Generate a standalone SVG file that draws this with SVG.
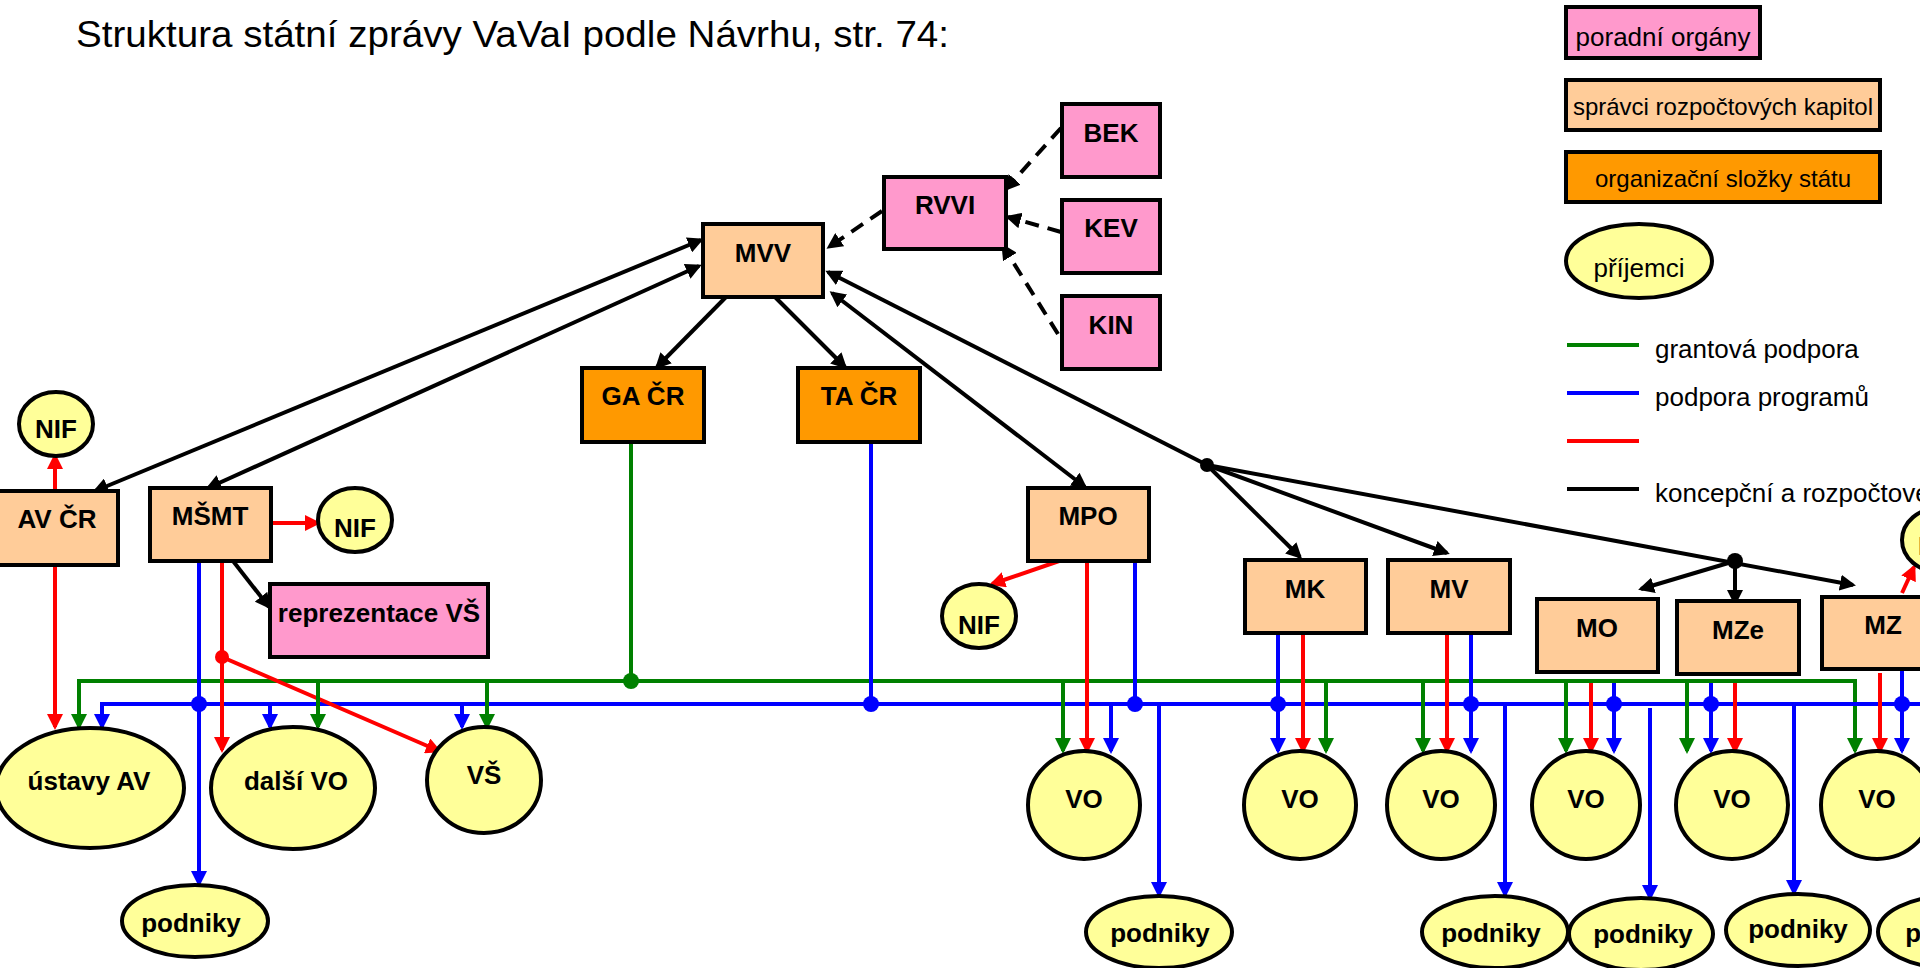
<svg xmlns="http://www.w3.org/2000/svg" width="1920" height="968" viewBox="0 0 1920 968">
<style>
.box{stroke:#000;stroke-width:4}
.pink{fill:#FF99CC}.peach{fill:#FFCC99}.orange{fill:#FF9900}.yel{fill:#FFFF99}
.lbl{font-family:"Liberation Sans",Arial,sans-serif;font-weight:bold;font-size:26px;text-anchor:middle;fill:#000}
.leg{font-family:"Liberation Sans",Arial,sans-serif;font-size:26px;fill:#000}
.legc{font-family:"Liberation Sans",Arial,sans-serif;font-size:24px;fill:#000;text-anchor:middle}
.k{stroke:#000;stroke-width:4;fill:none}
.kd{stroke:#000;stroke-width:4;fill:none;stroke-dasharray:14 9}
.r{stroke:#FF0000;stroke-width:4;fill:none}
.g{stroke:#008000;stroke-width:4;fill:none}
.b{stroke:#0000FF;stroke-width:4;fill:none}
</style>
<defs>
<marker id="ak" viewBox="0 0 16 16" refX="13" refY="8" markerWidth="16" markerHeight="16" markerUnits="userSpaceOnUse" orient="auto-start-reverse"><path d="M0,0L16,8L0,16z" fill="#000"/></marker>
<marker id="ar" viewBox="0 0 16 16" refX="13" refY="8" markerWidth="16" markerHeight="16" markerUnits="userSpaceOnUse" orient="auto"><path d="M0,0L16,8L0,16z" fill="#FF0000"/></marker>
<marker id="ag" viewBox="0 0 16 16" refX="13" refY="8" markerWidth="16" markerHeight="16" markerUnits="userSpaceOnUse" orient="auto"><path d="M0,0L16,8L0,16z" fill="#008000"/></marker>
<marker id="ab" viewBox="0 0 16 16" refX="13" refY="8" markerWidth="16" markerHeight="16" markerUnits="userSpaceOnUse" orient="auto"><path d="M0,0L16,8L0,16z" fill="#0000FF"/></marker>
</defs>
<rect width="1920" height="968" fill="#fff"/>
<text x="76" y="47" font-family="Liberation Sans, Arial, sans-serif" font-size="37" textLength="873" lengthAdjust="spacingAndGlyphs">Struktura státní zprávy VaVaI podle Návrhu, str. 74:</text>

<g id="legend">
<rect class="box pink" x="1566" y="7" width="194" height="51"/>
<text class="legc" x="1663" y="46" style="font-size:26px">poradní orgány</text>
<rect class="box peach" x="1566" y="80" width="314" height="50"/>
<text class="legc" x="1723" y="115">správci rozpočtových kapitol</text>
<rect class="box orange" x="1566" y="152" width="314" height="50"/>
<text class="legc" x="1723" y="187">organizační složky státu</text>
<ellipse class="box yel" cx="1639" cy="261" rx="73" ry="37"/>
<text class="legc" x="1639" y="277" style="font-size:26px">příjemci</text>
<line x1="1567" y1="345" x2="1639" y2="345" class="g"/>
<text class="leg" x="1655" y="358">grantová podpora</text>
<line x1="1567" y1="393" x2="1639" y2="393" class="b"/>
<text class="leg" x="1655" y="406">podpora programů</text>
<line x1="1567" y1="441" x2="1639" y2="441" class="r"/>
<line x1="1567" y1="489" x2="1639" y2="489" class="k"/>
<text class="leg" x="1655" y="502">koncepční a rozpočtové</text>
</g>

<g id="connectors">
<line class="k" x1="95" y1="491" x2="701" y2="240" marker-start="url(#ak)" marker-end="url(#ak)"/>
<line class="k" x1="208" y1="488" x2="699" y2="266" marker-start="url(#ak)" marker-end="url(#ak)"/>
<line class="k" x1="726" y1="297" x2="657" y2="367" marker-end="url(#ak)"/>
<line class="k" x1="775" y1="297" x2="845" y2="367" marker-end="url(#ak)"/>
<line class="k" x1="832" y1="293" x2="1085" y2="487" marker-start="url(#ak)" marker-end="url(#ak)"/>
<line class="k" x1="828" y1="272" x2="1207" y2="465" marker-start="url(#ak)"/>
<line class="k" x1="1207" y1="465" x2="1300" y2="557" marker-end="url(#ak)"/>
<line class="k" x1="1207" y1="465" x2="1447" y2="553" marker-end="url(#ak)"/>
<line class="k" x1="1207" y1="465" x2="1853" y2="585" marker-end="url(#ak)"/>
<line class="k" x1="1735" y1="561" x2="1641" y2="589" marker-end="url(#ak)"/>
<line class="k" x1="1735" y1="561" x2="1735" y2="603" marker-end="url(#ak)"/>
<line class="k" x1="233" y1="561" x2="269" y2="607" marker-end="url(#ak)"/>
<circle cx="1207" cy="465" r="7" fill="#000"/>
<circle cx="1735" cy="561" r="8" fill="#000"/>
<line class="kd" x1="882" y1="211" x2="829" y2="247" marker-end="url(#ak)"/>
<line class="kd" x1="1061" y1="128" x2="1006" y2="189" marker-end="url(#ak)"/>
<line class="kd" x1="1061" y1="232" x2="1008" y2="217" marker-end="url(#ak)"/>
<line class="kd" x1="1058" y1="334" x2="1003" y2="246" marker-end="url(#ak)"/>
<path class="g" d="M79,727 V681 H1855 V751" marker-end="url(#ag)"/>
<line class="g" x1="79" y1="681" x2="79" y2="727" marker-end="url(#ag)"/>
<path class="b" d="M102,727 V704 H1920"/>
<line class="b" x1="102" y1="704" x2="102" y2="727" marker-end="url(#ab)"/>
<line class="r" x1="55" y1="491" x2="55" y2="456" marker-end="url(#ar)"/>
<line class="r" x1="55" y1="565" x2="55" y2="727" marker-end="url(#ar)"/>
<line class="r" x1="271" y1="523" x2="318" y2="523" marker-end="url(#ar)"/>
<line class="b" x1="199" y1="561" x2="199" y2="884" marker-end="url(#ab)"/>
<line class="r" x1="222" y1="561" x2="222" y2="750" marker-end="url(#ar)"/>
<line class="r" x1="222" y1="657" x2="439" y2="751" marker-end="url(#ar)"/>
<circle cx="222" cy="657" r="7" fill="#FF0000"/>
<line class="b" x1="270" y1="704" x2="270" y2="727" marker-end="url(#ab)"/>
<line class="g" x1="318" y1="681" x2="318" y2="727" marker-end="url(#ag)"/>
<line class="b" x1="462" y1="704" x2="462" y2="727" marker-end="url(#ab)"/>
<line class="g" x1="487" y1="681" x2="487" y2="727" marker-end="url(#ag)"/>
<circle cx="199" cy="704" r="8" fill="#0000FF"/>
<line class="g" x1="631" y1="442" x2="631" y2="681"/>
<circle cx="631" cy="681" r="8" fill="#008000"/>
<line class="b" x1="871" y1="442" x2="871" y2="704"/>
<circle cx="871" cy="704" r="8" fill="#0000FF"/>
<line class="r" x1="1062" y1="560" x2="992" y2="584" marker-end="url(#ar)"/>
<line class="g" x1="1063" y1="681" x2="1063" y2="751" marker-end="url(#ag)"/>
<line class="r" x1="1087" y1="561" x2="1087" y2="751" marker-end="url(#ar)"/>
<line class="b" x1="1111" y1="704" x2="1111" y2="751" marker-end="url(#ab)"/>
<line class="b" x1="1135" y1="561" x2="1135" y2="704"/>
<circle cx="1135" cy="704" r="8" fill="#0000FF"/>
<line class="b" x1="1159" y1="704" x2="1159" y2="895" marker-end="url(#ab)"/>
<line class="b" x1="1278" y1="633" x2="1278" y2="751" marker-end="url(#ab)"/>
<circle cx="1278" cy="704" r="8" fill="#0000FF"/>
<line class="r" x1="1303" y1="633" x2="1303" y2="751" marker-end="url(#ar)"/>
<line class="g" x1="1326" y1="681" x2="1326" y2="751" marker-end="url(#ag)"/>
<line class="g" x1="1423" y1="681" x2="1423" y2="751" marker-end="url(#ag)"/>
<line class="r" x1="1447" y1="633" x2="1447" y2="751" marker-end="url(#ar)"/>
<line class="b" x1="1471" y1="633" x2="1471" y2="751" marker-end="url(#ab)"/>
<circle cx="1471" cy="704" r="8" fill="#0000FF"/>
<line class="b" x1="1505" y1="704" x2="1505" y2="895" marker-end="url(#ab)"/>
<line class="g" x1="1566" y1="681" x2="1566" y2="751" marker-end="url(#ag)"/>
<line class="r" x1="1591" y1="683" x2="1591" y2="751" marker-end="url(#ar)"/>
<line class="b" x1="1614" y1="683" x2="1614" y2="751" marker-end="url(#ab)"/>
<circle cx="1614" cy="704" r="8" fill="#0000FF"/>
<line class="b" x1="1650" y1="708" x2="1650" y2="898" marker-end="url(#ab)"/>
<line class="g" x1="1687" y1="681" x2="1687" y2="751" marker-end="url(#ag)"/>
<line class="b" x1="1711" y1="683" x2="1711" y2="751" marker-end="url(#ab)"/>
<circle cx="1711" cy="704" r="8" fill="#0000FF"/>
<line class="r" x1="1735" y1="683" x2="1735" y2="751" marker-end="url(#ar)"/>
<line class="b" x1="1794" y1="706" x2="1794" y2="893" marker-end="url(#ab)"/>
<line class="r" x1="1880" y1="673" x2="1880" y2="751" marker-end="url(#ar)"/>
<line class="b" x1="1902" y1="666" x2="1902" y2="751" marker-end="url(#ab)"/>
<circle cx="1902" cy="704" r="8" fill="#0000FF"/>
<line class="r" x1="1902" y1="593" x2="1914" y2="567" marker-end="url(#ar)"/>
</g>

<g id="MVV"><rect class="box peach" x="703" y="224" width="120" height="73"/><text class="lbl" x="763" y="262">MVV</text></g>
<g id="RVVI"><rect class="box pink" x="884" y="177" width="122" height="72"/><text class="lbl" x="945" y="214">RVVI</text></g>
<g id="BEK"><rect class="box pink" x="1062" y="104" width="98" height="73"/><text class="lbl" x="1111" y="142">BEK</text></g>
<g id="KEV"><rect class="box pink" x="1062" y="200" width="98" height="73"/><text class="lbl" x="1111" y="237">KEV</text></g>
<g id="KIN"><rect class="box pink" x="1062" y="296" width="98" height="73"/><text class="lbl" x="1111" y="334">KIN</text></g>
<g id="GACR"><rect class="box orange" x="582" y="368" width="122" height="74"/><text class="lbl" x="643" y="405">GA ČR</text></g>
<g id="TACR"><rect class="box orange" x="798" y="368" width="122" height="74"/><text class="lbl" x="859" y="405">TA ČR</text></g>
<g id="AVCR"><rect class="box peach" x="-4" y="491" width="122" height="74"/><text class="lbl" x="57" y="528">AV ČR</text></g>
<g id="MSMT"><rect class="box peach" x="150" y="488" width="121" height="73"/><text class="lbl" x="210" y="525">MŠMT</text></g>
<g id="NIF1"><ellipse class="box yel" cx="56" cy="424" rx="37" ry="32"/><text class="lbl" x="56" y="438">NIF</text></g>
<g id="NIF2"><ellipse class="box yel" cx="355" cy="520" rx="37" ry="32"/><text class="lbl" x="355" y="537">NIF</text></g>
<g id="reprVS"><rect class="box pink" x="270" y="584" width="218" height="73"/><text class="lbl" x="379" y="622">reprezentace VŠ</text></g>
<g id="MPO"><rect class="box peach" x="1028" y="488" width="121" height="73"/><text class="lbl" x="1088" y="525">MPO</text></g>
<g id="NIF3"><ellipse class="box yel" cx="979" cy="616" rx="37" ry="32"/><text class="lbl" x="979" y="634">NIF</text></g>
<g id="MK"><rect class="box peach" x="1245" y="560" width="121" height="73"/><text class="lbl" x="1305" y="598">MK</text></g>
<g id="MV"><rect class="box peach" x="1388" y="560" width="122" height="73"/><text class="lbl" x="1449" y="598">MV</text></g>
<g id="MO"><rect class="box peach" x="1537" y="599" width="121" height="73"/><text class="lbl" x="1597" y="637">MO</text></g>
<g id="MZe"><rect class="box peach" x="1677" y="601" width="122" height="73"/><text class="lbl" x="1738" y="639">MZe</text></g>
<g id="MZ"><rect class="box peach" x="1822" y="597" width="122" height="72"/><text class="lbl" x="1883" y="634">MZ</text></g>
<g id="NIF4"><ellipse class="box yel" cx="1939" cy="540" rx="37" ry="32"/><text class="lbl" x="1939" y="555">NIF</text></g>

<g id="ustavyAV"><ellipse class="box yel" cx="90" cy="788" rx="94" ry="60"/><text class="lbl" x="89" y="790">ústavy AV</text></g>
<g id="dalsiVO"><ellipse class="box yel" cx="293" cy="788" rx="82" ry="61"/><text class="lbl" x="296" y="790">další VO</text></g>
<g id="VS"><ellipse class="box yel" cx="484" cy="780" rx="57" ry="53"/><text class="lbl" x="484" y="784">VŠ</text></g>
<g id="podniky1"><ellipse class="box yel" cx="195" cy="921" rx="73" ry="36"/><text class="lbl" x="191" y="932">podniky</text></g>
<g id="VO1"><ellipse class="box yel" cx="1084" cy="805" rx="56" ry="54"/><text class="lbl" x="1084" y="808">VO</text></g>
<g id="podniky2"><ellipse class="box yel" cx="1159" cy="932" rx="73" ry="36"/><text class="lbl" x="1160" y="942">podniky</text></g>
<g id="VO2"><ellipse class="box yel" cx="1300" cy="805" rx="56" ry="54"/><text class="lbl" x="1300" y="808">VO</text></g>
<g id="VO3"><ellipse class="box yel" cx="1441" cy="805" rx="54" ry="54"/><text class="lbl" x="1441" y="808">VO</text></g>
<g id="podniky3"><ellipse class="box yel" cx="1495" cy="932" rx="73" ry="36"/><text class="lbl" x="1491" y="942">podniky</text></g>
<g id="VO4"><ellipse class="box yel" cx="1586" cy="805" rx="54" ry="54"/><text class="lbl" x="1586" y="808">VO</text></g>
<g id="podniky4"><ellipse class="box yel" cx="1641" cy="934" rx="72" ry="36"/><text class="lbl" x="1643" y="943">podniky</text></g>
<g id="VO5"><ellipse class="box yel" cx="1732" cy="805" rx="56" ry="54"/><text class="lbl" x="1732" y="808">VO</text></g>
<g id="podniky5"><ellipse class="box yel" cx="1798" cy="930" rx="72" ry="36"/><text class="lbl" x="1798" y="938">podniky</text></g>
<g id="VO6"><ellipse class="box yel" cx="1877" cy="805" rx="56" ry="54"/><text class="lbl" x="1877" y="808">VO</text></g>
<g id="podniky6"><ellipse class="box yel" cx="1951" cy="932" rx="73" ry="36"/><text class="lbl" x="1955" y="942">podniky</text></g>
</svg>
